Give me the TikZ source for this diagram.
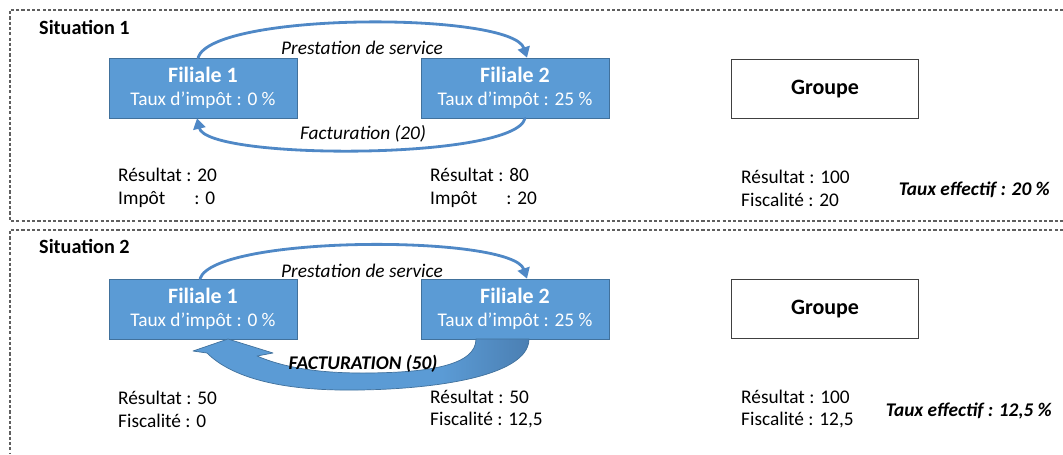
\documentclass[tikz,border=0pt]{standalone}
\usepackage{fontspec}
\setmainfont{Carlito}
\usetikzlibrary{arrows.meta}
\definecolor{filblue}{RGB}{91,155,213}
\definecolor{filedge}{RGB}{65,113,156}
\definecolor{arcblue}{RGB}{79,136,198}
\definecolor{fdark}{RGB}{66,112,160}
\definecolor{framegray}{RGB}{95,95,95}
\pgfdeclarehorizontalshading{factshade}{100bp}{color(0bp)=(filblue); color(62bp)=(filblue); color(82bp)=(fdark); color(100bp)=(fdark)}

\begin{document}
\begin{tikzpicture}[x=0.02cm, y=-0.02cm, line cap=round,
    filiale/.style={draw=filedge, fill=filblue, text=white, minimum width=3.76cm, minimum height=1.2cm, align=center, inner sep=0pt, font=\fontsize{11}{14}\selectfont},
    groupe/.style={draw=black!75, line width=0.7pt, minimum width=3.74cm, minimum height=1.18cm, font=\fontsize{12.5}{15}\selectfont\bfseries},
    cadre/.style={draw=framegray, line width=0.6pt, line cap=butt, dash pattern=on 1.8pt off 1.2pt},
    fleche/.style={draw=arcblue, line width=1.6pt, -{Triangle[width=7pt,length=6pt]}},
    chiffres/.style={anchor=west, align=left, font=\fontsize{11}{13}\selectfont},
    taux/.style={anchor=east, font=\fontsize{11}{13}\selectfont\bfseries\itshape},
    titre/.style={anchor=west, font=\fontsize{11.5}{13}\selectfont\bfseries},
    legende/.style={font=\fontsize{11}{13}\selectfont\itshape}]
    \useasboundingbox (0,0) rectangle (1063,454);

    \draw[cadre] (1063,10) -- (10,10) -- (10,221) -- (1063,221);
    \draw[cadre] (1063,230) -- (10,230) -- (10,454);

    % situation 1
    \node[titre] (sit1) at (33,27) {Situation 1};
    \node[filiale] (fa1) at (203,88) {\raisebox{-2pt}{\fontsize{12.5}{14}\selectfont\bfseries Filiale 1}\\[1pt]Taux d’impôt : 0 \%};
    \node[filiale] (fb1) at (515,88) {\raisebox{-2pt}{\fontsize{12.5}{14}\selectfont\bfseries Filiale 2}\\[1pt]Taux d’impôt : 25 \%};
    \node[groupe] (gr1) at (825,89) {Groupe};

    \draw[fleche] ([xshift=-0.1cm]fa1.north) .. controls +(15,-46) and +(-15,-46) .. ([xshift=0.24cm]fb1.north);
    \draw[fleche] ([xshift=0.2cm]fb1.south) .. controls +(-10,42) and +(10,42) .. ([xshift=-0.12cm]fa1.south);
    \node[legende] (pres1) at (362,48) {Prestation de service};
    \node[legende] (fact1) at (363,134) {Facturation (20)};

    \node[chiffres] (ra1) at (112,188) {Résultat : 20\\Impôt\hspace{1.5em}: 0};
    \node[chiffres] (rb1) at (424,188) {Résultat : 80\\Impôt\hspace{1.5em}: 20};
    \node[chiffres] (rg1) at (735,188) {Résultat : 100\\Fiscalité : 20};
    \node[taux] (tx1) at (1056,190) {Taux effectif : 20 \%};

    % situation 2
    \node[titre] (sit2) at (33,246) {Situation 2};
    \node[filiale] (fa2) at (203,309) {\raisebox{-2pt}{\fontsize{12.5}{14}\selectfont\bfseries Filiale 1}\\[1pt]Taux d’impôt : 0 \%};
    \node[filiale] (fb2) at (515,309) {\raisebox{-2pt}{\fontsize{12.5}{14}\selectfont\bfseries Filiale 2}\\[1pt]Taux d’impôt : 25 \%};
    \node[groupe] (gr2) at (825,309) {Groupe};

    \draw[fleche] ([xshift=-0.06cm]fa2.north) .. controls +(15,-44) and +(-15,-44) .. ([xshift=0.24cm]fb2.north);
    \node[legende] (pres2) at (362,271) {Prestation de service};

    \coordinate (p1) at (529,339);
    \coordinate (p2) at (340,390);
    \coordinate (p3) at (207,353);
    \coordinate (p4) at (193,351);
    \coordinate (p5) at (228,339);
    \coordinate (p6) at (273,353);
    \coordinate (p7) at (257,356);
    \coordinate (p8) at (362,373);
    \coordinate (p9) at (476,339);
    \shade[shading=factshade, draw=filedge, line width=0.4pt, line join=round]
        (p1) .. controls (529,378) and (425,391) .. (p2) .. controls (270,389) and (228,374) .. (p3)
        -- (p4) -- (p5) -- (p6) -- (p7)
        .. controls (285,368) and (320,373) .. (p8) .. controls (430,373) and (476,365) .. (p9) -- cycle;
    \node[font=\fontsize{11}{13}\selectfont\bfseries\itshape] (fact2) at (363,364) {FACTURATION (50)};

    \node[chiffres] (ra2) at (112,409) {Résultat : 50\\Fiscalité : 0};
    \node[chiffres] (rb2) at (424,409) {Résultat : 50\\Fiscalité : 12,5};
    \node[chiffres] (rg2) at (735,409) {Résultat : 100\\Fiscalité : 12,5};
    \node[taux] (tx2) at (1058,411) {Taux effectif : 12,5 \%};
\end{tikzpicture}
\end{document}
